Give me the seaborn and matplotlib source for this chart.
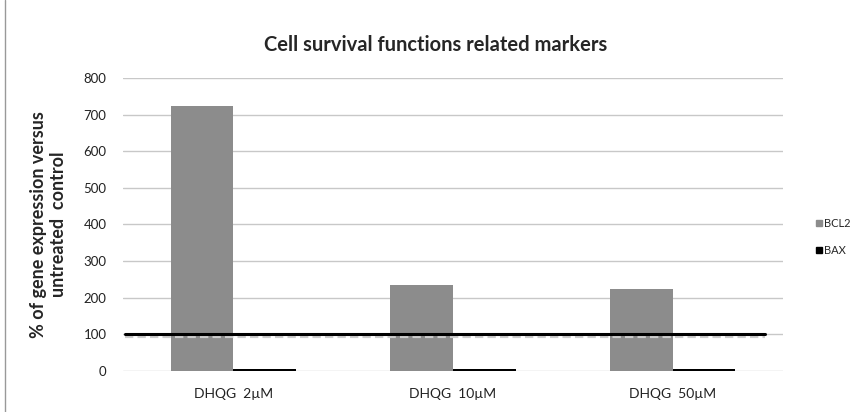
import pandas as pd
import seaborn as sns
import matplotlib.pyplot as plt
from matplotlib.lines import Line2D

treatments = ['DHQG  2µM', 'DHQG  10µM', 'DHQG  50µM']
markers = ['BCL2', 'BAX']
bcl2 = [722, 234, 224]
bax = [5, 5, 5]
colors = {'BCL2': '#8c8c8c', 'BAX': '#000000'}

df = pd.DataFrame({
    'treatment': treatments * 2,
    'marker': ['BCL2'] * 3 + ['BAX'] * 3,
    'value': bcl2 + bax,
})

sns.set_style('white')
plt.rcParams['font.family'] = ['Lato', 'DejaVu Sans']

fig = plt.figure(figsize=(8.62, 4.12), dpi=100)
ax = fig.add_axes([0.143, 0.0995, 0.765, 0.7115])

sns.barplot(data=df, x='treatment', y='value', hue='marker', order=treatments,
            hue_order=markers, palette=colors, width=0.57, gap=0,
            saturation=1, legend=False, linewidth=0, ax=ax)

ax.set_ylim(0, 800)
ax.set_yticks(range(0, 801, 100))
ax.yaxis.grid(True, color='#c8c8c8', linewidth=1)
ax.set_axisbelow(True)
for s in ax.spines.values():
    s.set_visible(False)
ax.tick_params(axis='y', length=0, pad=12, labelsize=9.5, colors='#222222')
ax.tick_params(axis='x', length=0, pad=12, labelsize=10, colors='#222222')
ax.set_xlabel('')
ax.set_ylabel('% of gene expression versus\nuntreated  control', fontsize=13,
              fontweight='bold', labelpad=12, linespacing=1.2)

# reference line at 100 % with a soft shadow
ax.axhline(95.5, xmin=0.003, xmax=0.973, color='#cccccc', linewidth=3, linestyle=(0, (2, 1)))
ax.axhline(100, xmin=0.003, xmax=0.973, color='black', linewidth=2.2)

fig.suptitle('Cell survival functions related markers', x=0.505, y=0.915,
             fontsize=14.5, fontweight='bold')

handles = [Line2D([0], [0], marker='s', linestyle='', markersize=5,
                  markerfacecolor=colors[m], markeredgecolor=colors[m], label=m)
           for m in markers]
fig.legend(handles=handles, loc='center left', bbox_to_anchor=(0.933, 0.425),
           frameon=False, fontsize=8, handletextpad=0.1, labelspacing=1.5,
           handlelength=0.8)

fig.add_artist(Line2D([0.006, 0.006], [0, 1], color='#999999', linewidth=1))

fig.savefig('out.png', dpi=100)
